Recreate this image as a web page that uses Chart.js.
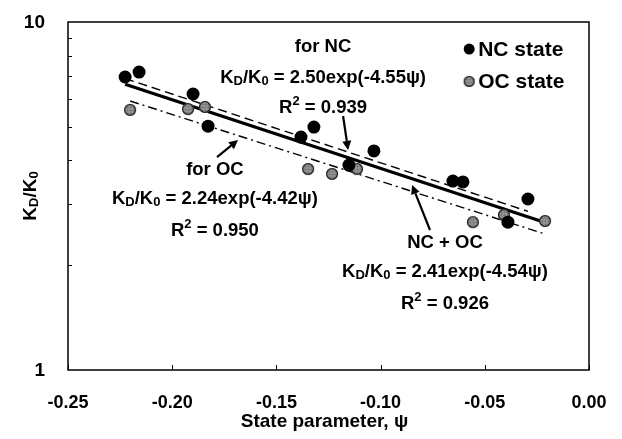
<!DOCTYPE html>
<html><head><meta charset="utf-8">
<script src="https://cdn.jsdelivr.net/npm/chart.js@4.4.1/dist/chart.umd.min.js"></script>
<style>html,body{margin:0;padding:0;background:#fff;}#wrap{width:622px;height:439px;}</style>
</head><body><div id="wrap"><canvas id="c" width="622" height="439"></canvas></div>
<script>
// ---- data ----
const ncPsi = [-0.2226, -0.2159, -0.1900, -0.1828, -0.1382, -0.1320, -0.1152, -0.1032, -0.0653, -0.0605, -0.0293, -0.0389];
const ncK   = [6.95, 7.18, 6.21, 5.02, 4.67, 4.99, 3.88, 4.26, 3.49, 3.47, 3.10, 2.66];
const ocPsi = [-0.2202, -0.1924, -0.1843, -0.1348, -0.1233, -0.1113, -0.0557, -0.0408, -0.0211];
const ocK   = [5.59, 5.62, 5.70, 3.78, 3.66, 3.78, 2.66, 2.79, 2.68];
// fitted trend lines (end points)
const fitAllPsi = [-0.2226, -0.0211];
const fitAllK   = [6.62, 2.652];
const fitNcPsi  = [-0.2226, -0.0293];
const fitNcK    = [6.88, 2.857];
const fitOcPsi  = [-0.2202, -0.0211];
const fitOcK    = [5.93, 2.459];
// ticks
const xTicks = [-0.25, -0.20, -0.15, -0.10, -0.05, 0.00];
const yTicks = [1, 10];
const yMinor = [2, 3, 4, 5, 6, 7, 8, 9];
// labels
const seriesNames = ['NC state', 'OC state'];
const xTitle = 'State parameter, \u03c8';

const FONT = '"Liberation Sans", Arial, Helvetica, sans-serif';
const pts = (xs, ys) => xs.map((x, i) => ({x: x, y: ys[i]}));

function makeOC(r) {
  const s = 2 * r + 2, m = s / 2;
  const c = document.createElement('canvas'); c.width = c.height = s;
  const g = c.getContext('2d');
  g.beginPath(); g.arc(m, m, r, 0, 2 * Math.PI); g.fillStyle = '#6e6e6e'; g.fill();
  g.save(); g.clip(); g.strokeStyle = '#ababab'; g.lineWidth = 0.8;
  for (let k = -r + 2; k < r; k += 3) {
    g.beginPath(); g.moveTo(m + k, 0); g.lineTo(m + k, s); g.stroke();
    g.beginPath(); g.moveTo(0, m + k); g.lineTo(s, m + k); g.stroke();
  }
  g.restore();
  g.beginPath(); g.arc(m, m, r - 0.6, 0, 2 * Math.PI); g.strokeStyle = '#222'; g.lineWidth = 1.3; g.stroke();
  return c;
}
const ocImg = makeOC(6);
const ocLegImg = makeOC(5.5);

function drawRich(ctx, parts, cx, cy, size) {
  const big = 'bold ' + size + 'px ' + FONT, small = 'bold ' + Math.round(size * 0.68) + 'px ' + FONT;
  let w = 0;
  parts.forEach(p => { ctx.font = p.s ? small : big; w += ctx.measureText(p.t).width; });
  let x = cx - w / 2;
  ctx.textBaseline = 'alphabetic'; ctx.textAlign = 'left'; ctx.fillStyle = '#000';
  const base = cy + size * 0.36;
  parts.forEach(p => {
    ctx.font = p.s ? small : big;
    let y = base;
    if (p.s === 'sub') y = base + size * 0.12;
    if (p.s === 'sup') y = base - size * 0.42;
    ctx.fillText(p.t, x, y);
    x += ctx.measureText(p.t).width;
  });
}
function eqParts(a, b) {
  return [{t:'K'},{t:'D',s:'sub'},{t:'/K'},{t:'0',s:'sub'},{t:' = ' + a + 'exp(-' + b + '\u03c8)'}];
}
function r2Parts(v) { return [{t:'R'},{t:'2',s:'sup'},{t:' = ' + v}]; }

function arrow(ctx, x1, y1, x2, y2) {
  const ang = Math.atan2(y2 - y1, x2 - x1), L = 9, W = 4.5;
  const bx = x2 - L * Math.cos(ang), by = y2 - L * Math.sin(ang);
  ctx.strokeStyle = '#000'; ctx.lineWidth = 2.2;
  ctx.beginPath(); ctx.moveTo(x1, y1); ctx.lineTo(bx, by); ctx.stroke();
  ctx.fillStyle = '#000'; ctx.beginPath();
  ctx.moveTo(x2, y2);
  ctx.lineTo(bx + W * Math.sin(ang), by - W * Math.cos(ang));
  ctx.lineTo(bx - W * Math.sin(ang), by + W * Math.cos(ang));
  ctx.closePath(); ctx.fill();
}

const AF = 18.5; // annotation font size
const deco = {
  id: 'deco',
  afterDatasetsDraw(chart) {
    const {ctx, chartArea: a, scales: {x, y}} = chart;
    const X = v => x.getPixelForValue(v), Y = v => y.getPixelForValue(v);
    ctx.save();
    // frame
    ctx.strokeStyle = '#000'; ctx.lineWidth = 1.5;
    ctx.strokeRect(a.left, a.top, a.right - a.left, a.bottom - a.top);
    // inside ticks
    ctx.lineWidth = 1;
    xTicks.forEach(v => { const px = Math.round(X(v)) + 0.5; ctx.beginPath(); ctx.moveTo(px, a.bottom); ctx.lineTo(px, a.bottom - 5); ctx.stroke(); });
    yMinor.forEach(v => { const py = Math.round(Y(v)) + 0.5; ctx.beginPath(); ctx.moveTo(a.left, py); ctx.lineTo(a.left + 4, py); ctx.stroke(); });
    // tick labels (positioned by the scales)
    ctx.fillStyle = '#000';
    ctx.font = 'bold 18px ' + FONT; ctx.textAlign = 'center'; ctx.textBaseline = 'middle';
    xTicks.forEach(v => ctx.fillText((Math.abs(v) < 1e-9 ? 0 : v).toFixed(2), X(v), a.bottom + 33));
    ctx.font = 'bold 19px ' + FONT; ctx.textAlign = 'right';
    yTicks.forEach(v => ctx.fillText(String(v), a.left - 23, Y(v) + 1));
    // y title
    ctx.save();
    ctx.translate(29, (a.top + a.bottom) / 2);
    ctx.rotate(-Math.PI / 2);
    drawRich(ctx, [{t:'K'},{t:'D',s:'sub'},{t:'/K'},{t:'0',s:'sub'}], 0, 0, 19);
    ctx.restore();
    // annotations (placed in data coordinates)
    const lab = (t, px, py) => { ctx.fillStyle = '#000'; ctx.textAlign = 'center'; ctx.textBaseline = 'middle'; ctx.font = 'bold ' + AF + 'px ' + FONT; ctx.fillText(t, px, py); };
    lab('for NC', X(-0.1276), Y(8.48));
    drawRich(ctx, eqParts('2.50', '4.55'), X(-0.1276), Y(7.00), AF);
    drawRich(ctx, r2Parts('0.939'), X(-0.1276), Y(5.74), AF);
    lab('for OC', X(-0.1795), Y(3.76));
    drawRich(ctx, eqParts('2.24', '4.42'), X(-0.1795), Y(3.14), AF);
    drawRich(ctx, r2Parts('0.950'), X(-0.1795), Y(2.54), AF);
    lab('NC + OC', X(-0.0691), Y(2.32));
    drawRich(ctx, eqParts('2.41', '4.54'), X(-0.0691), Y(1.94), AF);
    drawRich(ctx, r2Parts('0.926'), X(-0.0691), Y(1.568), AF);
    // arrows
    arrow(ctx, X(-0.1180), Y(5.37), X(-0.1156), Y(4.29));
    arrow(ctx, X(-0.1785), Y(4.09), X(-0.1684), Y(4.58));
    arrow(ctx, X(-0.0763), Y(2.525), X(-0.0849), Y(3.40));
    // legend
    const lx = X(-0.0575), ly1 = Y(8.36), ly2 = Y(6.75);
    ctx.fillStyle = '#000'; ctx.beginPath(); ctx.arc(lx, ly1, 5.5, 0, 2 * Math.PI); ctx.fill();
    ctx.drawImage(ocLegImg, lx - ocLegImg.width / 2, ly2 - ocLegImg.height / 2);
    ctx.font = 'bold 21px ' + FONT; ctx.textAlign = 'left'; ctx.textBaseline = 'middle';
    ctx.fillText(seriesNames[0], lx + 9, ly1 + 1);
    ctx.fillText(seriesNames[1], lx + 9, ly2 + 1);
    // x title
    ctx.font = 'bold 19px ' + FONT; ctx.textAlign = 'center'; ctx.textBaseline = 'middle';
    ctx.fillText(xTitle, (a.left + a.right) / 2 - 4, 422);
    ctx.restore();
  }
};

new Chart(document.getElementById('c'), {
  type: 'scatter',
  data: {
    datasets: [
      {label: seriesNames[0], data: pts(ncPsi, ncK), pointStyle: 'circle', pointRadius: 6.5, backgroundColor: '#000', borderColor: '#000', borderWidth: 0, showLine: false},
      {label: seriesNames[1], data: pts(ocPsi, ocK), pointStyle: ocImg, pointRadius: 6, showLine: false},
      {label: 'NC + OC fit', data: pts(fitAllPsi, fitAllK), showLine: true, pointRadius: 0, borderColor: '#000', borderWidth: 3.2, fill: false},
      {label: 'NC fit', data: pts(fitNcPsi, fitNcK), showLine: true, pointRadius: 0, borderColor: '#000', borderWidth: 1.4, borderDash: [9, 5], fill: false},
      {label: 'OC fit', data: pts(fitOcPsi, fitOcK), showLine: true, pointRadius: 0, borderColor: '#000', borderWidth: 1.4, borderDash: [9, 4, 2, 4], fill: false}
    ]
  },
  options: {
    responsive: false, animation: false, devicePixelRatio: 1,
    layout: {padding: {left: 0, top: 22, right: 33, bottom: 0}},
    plugins: {legend: {display: false}, tooltip: {enabled: false}},
    scales: {
      x: {
        type: 'linear', min: -0.25, max: 0,
        afterBuildTicks: s => { s.ticks = xTicks.map(v => ({value: v})); },
        afterFit: s => { s.height = 69; },
        grid: {display: false, drawTicks: false}, border: {display: false},
        ticks: {display: false}
      },
      y: {
        type: 'logarithmic', min: 1, max: 10,
        afterBuildTicks: s => { s.ticks = yTicks.map(v => ({value: v})); },
        afterFit: s => { s.width = 68; },
        grid: {display: false, drawTicks: false}, border: {display: false},
        ticks: {display: false}
      }
    }
  },
  plugins: [deco]
});
</script></body></html>
